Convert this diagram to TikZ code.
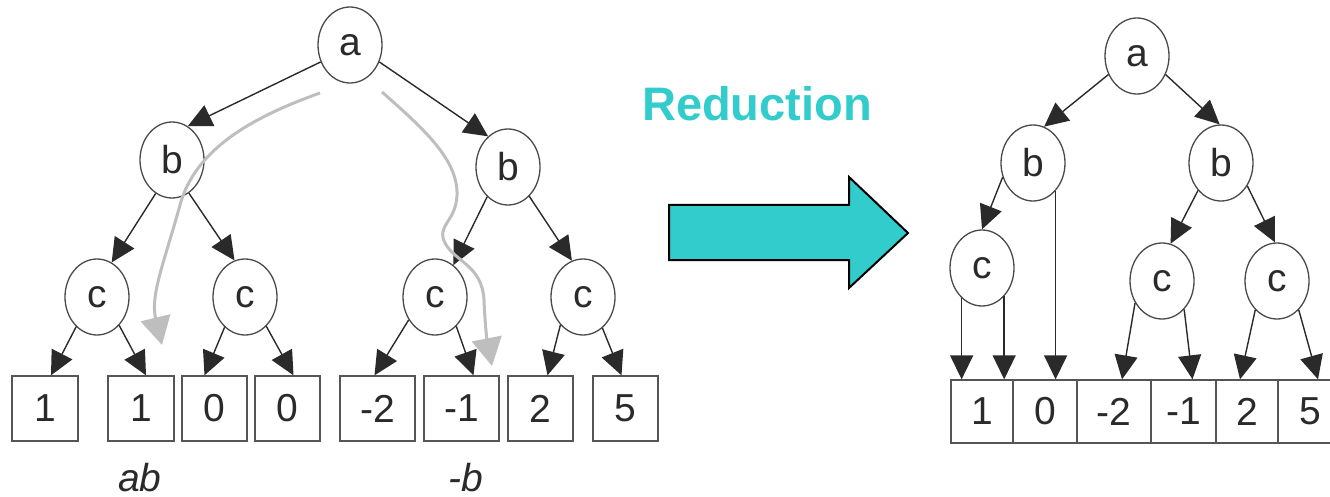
\documentclass[tikz,border=0pt]{standalone}
\usepackage{fontspec}
\setmainfont{Liberation Sans}
\usetikzlibrary{shapes.geometric,arrows.meta,calc}
\definecolor{ink}{HTML}{2A2A2A}
\definecolor{boxline}{HTML}{555555}
\definecolor{reduct}{HTML}{33CCCC}
\definecolor{trace}{HTML}{BEBEBE}
\begin{document}
\begin{tikzpicture}[x=1pt,y=-1pt,
  vnode/.style={ellipse,draw=ink!85,line width=1.3pt,minimum width=64pt,minimum height=76pt,
    inner sep=0pt,text=ink,font=\fontsize{39}{39}\selectfont},
  lbox/.style={rectangle,draw=boxline,line width=1.3pt,minimum height=65pt,inner sep=0pt,
    text=ink,font=\fontsize{39}{39}\selectfont},
  link/.style={draw=ink,line width=1.4pt,-{Triangle[length=24pt,width=23pt]}},
  trail/.style={draw=trace,line width=3pt,-{Triangle[length=28pt,width=30pt]}},
  tag/.style={text=ink,inner sep=0pt,anchor=base,font=\fontsize{39}{39}\selectfont\itshape}]
\useasboundingbox (0,0) rectangle (1330,497);
\clip (0,0) rectangle (1330,497);

% ---------- full decision tree ----------
\node[vnode] (a1) at (350,45) {a};
\node[vnode] (b1) at (172,160) {b};
\node[vnode] (b2) at (508,167) {b};
\node[vnode] (c1) at (97,297) {c};
\node[vnode] (c2) at (245,297) {c};
\node[vnode] (c3) at (435,297) {c};
\node[vnode] (c4) at (583,297) {c};

\node[lbox,minimum width=66pt] (l1) at (45,408.5) {1};
\node[lbox,minimum width=66pt] (l2) at (141,408.5) {1};
\node[lbox,minimum width=65pt] (l3) at (214.5,408.5) {0};
\node[lbox,minimum width=65pt] (l4) at (287.5,408.5) {0};
\node[lbox,minimum width=75pt] (l5) at (377.5,408.5) {-2};
\node[lbox,minimum width=75pt] (l6) at (461.5,408.5) {-1};
\node[lbox,minimum width=65pt] (l7) at (540.5,408.5) {2};
\node[lbox,minimum width=65pt] (l8) at (625.5,408.5) {5};

\draw[link] (a1.210) -- (b1.65);
\draw[link] (a1.330) -- (b2.123);
\draw[link] (b1.244) -- (c1.67);
\draw[link] (b1.297) -- (c2.106);
\draw[link] (b2.235) -- (c3.60);
\draw[link] (b2.306) -- (c4.107);
\draw[link] (c1.235) -- ([xshift=6pt]l1.north);
\draw[link] (c1.308) -- ([xshift=5pt]l2.north);
\draw[link] (c2.236) -- ([xshift=-10pt]l3.north);
\draw[link] (c2.306) -- ([xshift=6pt]l4.north);
\draw[link] (c3.221) -- ([xshift=-3pt]l5.north);
\draw[link] (c3.306) -- ([xshift=12pt]l6.north);
\draw[link] (c4.231) -- ([xshift=7pt]l7.north);
\draw[link] (c4.302) -- ([xshift=-4pt]l8.north);

\node[tag] (ab) at (140,491) {ab};
\node[tag] (nb) at (466,491) {-b};

% evaluation paths
\coordinate (t1s) at (320,93);
\coordinate (t1e) at (162,345);
\coordinate (t2s) at (382,92);
\coordinate (t2e) at (492,366);
\draw[trail] (t1s) .. controls (250,118) and (195,150) .. (180,205)
  .. controls (165,260) and (150,295) .. (t1e);
\draw[trail] (t2s) .. controls (425,130) and (458,160) .. (457,195)
  .. controls (456,222) and (436,225) .. (445,243)
  .. controls (455,262) and (482,265) .. (484,300)
  .. controls (485,325) and (487,340) .. (t2e);

% ---------- reduction arrow ----------
\node[text=reduct,font=\fontsize{47}{47}\selectfont\bfseries] (title) at (757,104) {Reduction};
\draw[fill=reduct,draw=black,line width=2pt,line join=miter]
  (669,205) -- (849,205) -- (849,177) -- (908,233) -- (849,288) -- (849,260) -- (669,260) -- cycle;

% ---------- reduced diagram ----------
\node[vnode] (ra) at (1137,56) {a};
\node[vnode] (rb1) at (1033,163) {b};
\node[vnode] (rb2) at (1221,163) {b};
\node[vnode] (rc1) at (982,268) {c};
\node[vnode] (rc2) at (1162,281) {c};
\node[vnode] (rc3) at (1277,281) {c};

\node[lbox,minimum width=62pt,minimum height=63pt] (rl1) at (982,411.5) {1};
\node[lbox,minimum width=64pt,minimum height=63pt] (rl2) at (1045,411.5) {0};
\node[lbox,minimum width=74pt,minimum height=63pt] (rl3) at (1114,411.5) {-2};
\node[lbox,minimum width=65pt,minimum height=63pt] (rl4) at (1183.5,411.5) {-1};
\node[lbox,minimum width=62pt,minimum height=63pt] (rl5) at (1247,411.5) {2};
\node[lbox,minimum width=64pt,minimum height=63pt] (rl6) at (1310,411.5) {5};

\draw[link] (ra.213) -- (rb1.73);
\draw[link] (ra.327) -- (rb2.92);
\draw[link] (rb1.205) -- (rc1.90);
\draw[link] (rb1.-51) -- (rb1.-51 |- rl2.north);
\draw[link] (rc1.236) -- (rc1.236 |- rl1.north);
\draw[link] (rc1.308) -- (rc1.308 |- rl1.north);
\draw[link] (rb2.230) -- (rc2.77);
\draw[link] (rb2.319) -- (rc3.93);
\draw[link] (rc2.219) -- ([xshift=8pt]rl3.north);
\draw[link] (rc2.308) -- ([xshift=9pt]rl4.north);
\draw[link] (rc3.233) -- ([xshift=-7pt]rl5.north);
\draw[link] (rc3.307) -- ([xshift=8pt]rl6.north);
\end{tikzpicture}
\end{document}
